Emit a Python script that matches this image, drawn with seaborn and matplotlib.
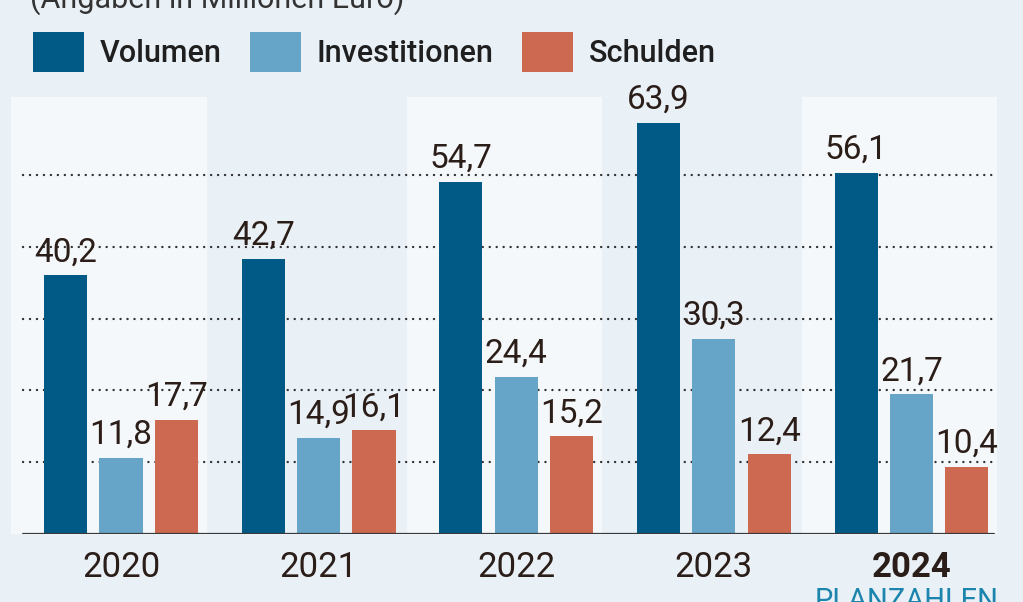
import numpy as np
import pandas as pd
import matplotlib
matplotlib.use("Agg")
import matplotlib.pyplot as plt
import seaborn as sns

# ---- data ----
years = ["2020", "2021", "2022", "2023", "2024"]
series = ["Volumen", "Investitionen", "Schulden"]
volumen = [40.2, 42.7, 54.7, 63.9, 56.1]
investitionen = [11.8, 14.9, 24.4, 30.3, 21.7]
schulden = [17.7, 16.1, 15.2, 12.4, 10.4]
title = "(Angaben in Millionen Euro)"
note = "PLANZAHLEN"

df = pd.DataFrame({
    "Jahr": years * 3,
    "Reihe": [series[0]] * 5 + [series[1]] * 5 + [series[2]] * 5,
    "Wert": volumen + investitionen + schulden,
})

# ---- style ----
BG = "#e9f0f6"
BAND = "#f5f8fb"
TXT = "#2b1d18"
colors = ["#005a85", "#67a5c8", "#cd6951"]

sns.set_style("white")
plt.rcParams["font.family"] = ["Roboto", "DejaVu Sans"]

W, H = 1023, 602
fig = plt.figure(figsize=(W / 100, H / 100), dpi=100, facecolor=BG)
ax = fig.add_axes([10 / W, (H - 534) / H, 999 / W, 437 / H])
ax.set_facecolor(BG)

# alternating light bands
for i in (0, 2, 4):
    ax.axvspan(i - 0.555, i + 0.435, color=BAND, lw=0, zorder=0)

# dotted gridlines
x0, x1 = (23 - 10) / 999, (994 - 10) / 999
for k in range(1, 6):
    ax.axhline(k * 11.15, xmin=x0, xmax=x1, color="#2f2f2f", lw=1.7,
               linestyle=(0, (0.05, 2.9)), dash_capstyle="round", zorder=1)

sns.barplot(data=df, x="Jahr", y="Wert", hue="Reihe", order=years,
            hue_order=series, palette=colors, saturation=1, errorbar=None,
            width=0.84, gap=0.22, ax=ax, zorder=2, linewidth=0)

for cont in ax.containers:
    labels = [f"{b.get_height():.1f}".replace(".", ",") for b in cont]
    ax.bar_label(cont, labels=labels, padding=5, fontsize=24,
                 color=TXT, fontweight="normal")

# baseline
ax.axhline(0, xmin=x0, xmax=x1, color="#3a3a3a", lw=1.6, zorder=3)

ax.set_xlim(-0.5617, 4.4934)
ax.set_ylim(0, 67.86)
ax.set_yticks([])
ax.set_xlabel("")
ax.set_ylabel("")
for s in ax.spines.values():
    s.set_visible(False)
ax.tick_params(axis="x", length=0, pad=12, labelsize=25, labelcolor=TXT)
for lbl in ax.get_xticklabels():
    if lbl.get_text() == "2024":
        lbl.set_fontweight("bold")

# legend
leg = ax.get_legend()
handles = leg.legend_handles
leg.remove()
fig.legend(handles, series, loc="upper left",
           bbox_to_anchor=(33 / W, 1 - 32 / H), ncol=3, frameon=False,
           handlelength=1.667, handleheight=1.634,
           handletextpad=0.52, columnspacing=0.92, borderpad=0,
           borderaxespad=0, prop={"size": 22, "weight": 500})
for t in fig.legends[0].get_texts():
    t.set_color("#1f1f1f")

# title (cut off at top) and note (cut off at bottom)
fig.text(30 / W, 1 - 8 / H, title, fontsize=22, color="#333333",
         va="baseline", ha="left")
fig.text(815 / W, (H - 609) / H, note, fontsize=21, color="#1b85ad",
         va="baseline", ha="left")

fig.savefig("out.png", dpi=100, facecolor=BG)
